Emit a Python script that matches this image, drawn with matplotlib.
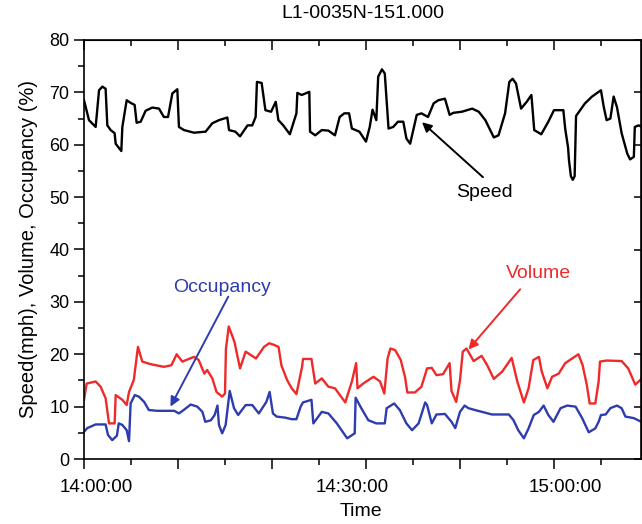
import matplotlib
matplotlib.use("Agg")
import matplotlib.pyplot as plt
from matplotlib.ticker import MultipleLocator
import matplotlib.transforms as mtransforms

plt.rcParams['font.family'] = ['Liberation Sans', 'DejaVu Sans']

# minutes after 14:00:00
speed_t = [0, 0.53, 1.24, 1.6, 1.95, 2.3, 2.48, 2.84, 3.26, 3.37, 3.97, 4.08, 4.54, 4.96,
           5.39, 5.6, 6.03, 6.56, 7.27, 7.98, 8.5, 8.94, 9.4, 9.93, 10.1, 10.64, 11.7, 12.94,
           13.65, 14.36, 15.25, 15.43, 16.1, 16.6, 17.4, 17.9, 18.26, 18.4, 18.9, 19.3, 19.9,
           20.4, 20.68, 21.2, 21.9, 22.6, 22.7, 23.16, 23.97, 24.05, 24.6, 25.3, 26.0, 26.7,
           27.2, 27.7, 28.2, 28.5, 29.3, 30.0, 30.4, 30.7, 31.1, 31.3, 31.7, 32.0, 32.4, 32.9,
           33.4, 33.97, 34.3, 34.7, 35.4, 35.9, 36.6, 37.2, 37.7, 38.4, 38.9, 39.3, 40.2, 41.3,
           42.0, 42.7, 43.6, 44.1, 44.8, 45.25, 45.6, 45.96, 46.5, 47.1, 47.6, 47.9, 48.65,
           49.4, 50.0, 51.0, 51.2, 51.5, 51.6, 51.8, 52.0, 52.2, 52.35, 53.3, 54.05, 55.0,
           55.3, 55.6, 56.0, 56.35, 56.7, 57.2, 57.8, 58.1, 58.5, 58.6, 59.0, 59.4]
speed_v = [68.5, 64.7, 63.4, 70.4, 71.1, 70.7, 63.7, 62.8, 62.2, 60.2, 58.8, 63.4, 68.5, 68.0,
           67.6, 64.2, 64.4, 66.5, 67.1, 66.9, 65.3, 65.3, 69.8, 70.6, 63.4, 62.8, 62.3, 62.5,
           64.1, 64.7, 65.2, 62.8, 62.5, 61.6, 63.7, 63.7, 65.3, 72.0, 71.8, 66.6, 66.3,
           68.2, 64.7, 63.7, 62.0, 66.0, 69.9, 69.5, 70.1, 62.5, 61.8, 62.8, 62.7, 61.8,
           65.3, 66.0, 66.0, 63.1, 62.5, 60.6, 63.4, 66.7, 64.7, 73.0, 74.4, 73.6, 63.1, 63.4,
           64.4, 64.4, 61.2, 60.2, 65.7, 66.0, 65.3, 67.9, 68.5, 68.8, 65.7, 66.1, 66.3, 66.9,
           66.3, 64.7, 61.4, 61.8, 66.0, 72.0, 72.6, 71.7, 66.9, 68.2, 69.5, 62.8, 62.0,
           64.4, 66.6, 66.6, 63.0, 59.5, 57.0, 54.0, 53.3, 54.0, 65.5, 67.9, 69.2, 70.4,
           67.2, 64.7, 65.0, 69.2, 67.2, 62.2, 58.3, 57.2, 57.7, 63.4, 63.7, 63.4]

volume_t = [0, 0.28, 1.24, 1.77, 2.3, 2.66, 3.26, 3.37, 4.08, 4.54, 4.79, 5.3, 5.74, 6.2, 7.1,
            8.5, 9.3, 9.86, 10.46, 11.7, 12.2, 12.8, 13.1, 13.65, 14.1, 14.7, 15.0, 15.1, 15.4,
            16.0, 16.6, 17.2, 18.3, 19.15, 19.7, 20.2, 20.7, 21.0, 21.6, 22.1, 22.6, 23.2, 23.3,
            24.2, 24.6, 25.3, 26.0, 26.7, 27.8, 28.5, 28.95, 29.1, 29.7, 30.8, 31.5, 31.95,
            32.3, 32.6, 33.1, 33.7, 34.15, 34.4, 35.2, 35.9, 36.5, 37.0, 37.5, 38.2, 38.9, 39.1,
            39.6, 40.0, 40.3, 40.7, 41.45, 42.3, 42.9, 43.6, 44.5, 45.5, 46.1, 46.8, 47.3, 47.8,
            48.4, 48.7, 49.3, 49.8, 50.5, 51.2, 52.6, 53.05, 53.5, 53.8, 54.4, 54.75, 54.9,
            55.6, 57.2, 57.9, 58.65, 59.2, 59.4]
volume_v = [11.3, 14.4, 14.8, 13.8, 11.6, 6.8, 6.8, 12.2, 11.3, 10.3, 12.8, 15.1, 21.4, 18.6, 18.1,
            17.6, 17.9, 20.0, 18.6, 19.5, 18.9, 16.3, 17.0, 15.4, 12.8, 11.9, 12.5, 21.0, 25.3,
            22.4, 17.3, 20.5, 19.2, 21.4, 22.1, 21.8, 21.4, 17.9, 15.1, 13.5, 12.4, 17.6, 19.1,
            19.1, 14.4, 15.4, 13.8, 13.5, 10.8, 14.8, 18.3, 13.5, 14.4, 15.7, 14.8, 12.5,
            19.2, 21.1, 20.8, 18.9, 15.7, 12.7, 12.7, 13.8, 17.3, 17.4, 16.0, 16.2, 18.3, 13.0,
            10.9, 15.0, 20.5, 21.1, 18.7, 19.7, 17.9, 15.3, 16.7, 19.3, 14.8, 10.8, 13.5, 18.9,
            19.5, 16.7, 13.5, 15.7, 16.3, 18.3, 20.0, 17.9, 14.1, 10.6, 10.6, 14.8, 18.6,
            18.8, 18.7, 17.3, 14.2, 15.1, 15.7]

occ_t = [0, 0.35, 1.24, 2.3, 2.55, 3.0, 3.5, 3.7, 4.08, 4.54, 4.79, 4.96, 5.4, 5.85, 6.4, 6.9,
         7.8, 9.6, 10.1, 10.6, 11.35, 12.05, 12.6, 12.9, 13.5, 13.9, 14.2, 14.36, 14.7, 15.07,
         15.5, 15.96, 16.4, 17.2, 17.9, 18.6, 19.4, 19.75, 20.1, 20.5, 21.4, 22.1, 22.6, 23.05,
         23.3, 24.2, 24.4, 25.3, 26.0, 26.9, 27.4, 28.0, 28.8, 28.9, 29.5, 30.25, 31.1, 32.0,
         32.2, 33.0, 33.6, 34.3, 34.9, 35.6, 36.3, 36.5, 37.0, 37.5, 38.4, 39.1, 39.5, 40.0,
         40.5, 40.9, 41.6, 43.4, 45.2, 45.7, 46.2, 46.8, 47.3, 47.85, 48.4, 48.9, 49.4, 49.95,
         50.7, 51.4, 52.3, 53.0, 53.7, 54.4, 54.75, 55.0, 55.5, 56.0, 56.7, 57.2, 57.6, 58.5,
         59.4]
occ_v = [5.2, 5.9, 6.6, 6.6, 4.6, 3.6, 4.45, 6.8, 6.5, 5.5, 3.4, 10.6, 12.2, 11.9, 10.9, 9.35,
         9.2, 9.2, 8.7, 9.35, 10.4, 10.0, 9.0, 7.1, 7.4, 8.4, 10.2, 6.5, 4.9, 6.5,
         13.0, 9.7, 8.4, 10.3, 10.3, 8.7, 10.9, 12.8, 8.7, 8.1, 7.9, 7.6, 7.6, 10.0,
         10.8, 11.3, 6.8, 9.0, 8.7, 6.8, 5.5, 3.95, 4.9, 11.7, 9.7, 7.4, 6.8, 6.8,
         9.7, 10.6, 9.35, 6.8, 5.5, 6.8, 10.8, 10.3, 6.8, 8.5, 8.6, 7.1, 5.9, 9.0,
         10.2, 9.7, 9.35, 8.5, 8.5, 7.4, 5.5, 3.95, 5.85, 8.4, 9.0, 10.2, 8.4, 7.1,
         9.7, 10.2, 10.0, 7.8, 5.1, 5.85, 7.1, 8.4, 8.5, 9.7, 10.2, 9.7, 8.1, 7.8,
         7.0]

time_labels = ["14:00:00", "14:30:00", "15:00:00"]
time_label_pos = [1.3, 28.5, 51.2]

BLACK = "black"
RED = "#ee2a2a"
BLUE = "#2e3cae"

fig = plt.figure(figsize=(6.42, 5.24), dpi=100)
ax = fig.add_axes([84 / 642, 65 / 524, (641 - 84) / 642, (459 - 40) / 524])

ax.plot(speed_t, speed_v, color=BLACK, lw=1.7)
ax.plot(volume_t, volume_v, color=RED, lw=1.7)
ax.plot(occ_t, occ_v, color=BLUE, lw=1.7)

ax.set_xlim(0, 59.26)
ax.set_ylim(0, 80)

# bottom / left: outward ticks
ax.xaxis.set_major_locator(MultipleLocator(10))
ax.xaxis.set_minor_locator(MultipleLocator(5))
ax.yaxis.set_major_locator(MultipleLocator(10))
ax.yaxis.set_minor_locator(MultipleLocator(5))
ax.tick_params(which='major', direction='out', length=7, width=1.1, labelsize=13)
ax.tick_params(which='minor', direction='out', length=4, width=1.1)
ax.tick_params(axis='x', labelbottom=False)
for s in ax.spines.values():
    s.set_linewidth(1.2)

# top / right: inward ticks
top = ax.secondary_xaxis('top')
top.xaxis.set_major_locator(MultipleLocator(10))
top.xaxis.set_minor_locator(MultipleLocator(5))
top.tick_params(which='major', direction='in', length=7, width=1.1, labeltop=False)
top.tick_params(which='minor', direction='in', length=4, width=1.1)
right = ax.secondary_yaxis('right')
right.yaxis.set_major_locator(MultipleLocator(10))
right.tick_params(which='major', direction='in', length=5, width=1.1, labelright=False)

trans = mtransforms.blended_transform_factory(ax.transData, ax.transAxes)
for pos, lab in zip(time_label_pos, time_labels):
    ax.text(pos, -0.067, lab, transform=trans, ha='center', va='center', fontsize=13.5)

fig.text(361 / 642, 1 - 512 / 524, "Time", ha='center', va='center', fontsize=14)
ax.set_ylabel("Speed(mph), Volume, Occupancy (%)", fontsize=14.5, labelpad=8)
fig.text(363 / 642, 1 - 14 / 524, "L1-0035N-151.000", ha='center', va='center', fontsize=14)

# annotations
arrow = dict(arrowstyle='-|>', lw=1.4, mutation_scale=14, shrinkA=0, shrinkB=0)
ax.annotate("", xy=(35.96, 64.3), xytext=(42.45, 53.8),
            arrowprops=dict(arrow, color=BLACK))
ax.text(42.65, 50.8, "Speed", ha='center', va='center', fontsize=14, color=BLACK)
ax.annotate("", xy=(40.9, 20.9), xytext=(46.4, 32.4),
            arrowprops=dict(arrow, color=RED))
ax.text(48.3, 35.5, "Volume", ha='center', va='center', fontsize=14, color=RED)
ax.annotate("", xy=(9.2, 10.0), xytext=(15.35, 31.0),
            arrowprops=dict(arrow, color=BLUE))
ax.text(14.7, 32.8, "Occupancy", ha='center', va='center', fontsize=14, color=BLUE)

fig.savefig("out.png", dpi=100)
